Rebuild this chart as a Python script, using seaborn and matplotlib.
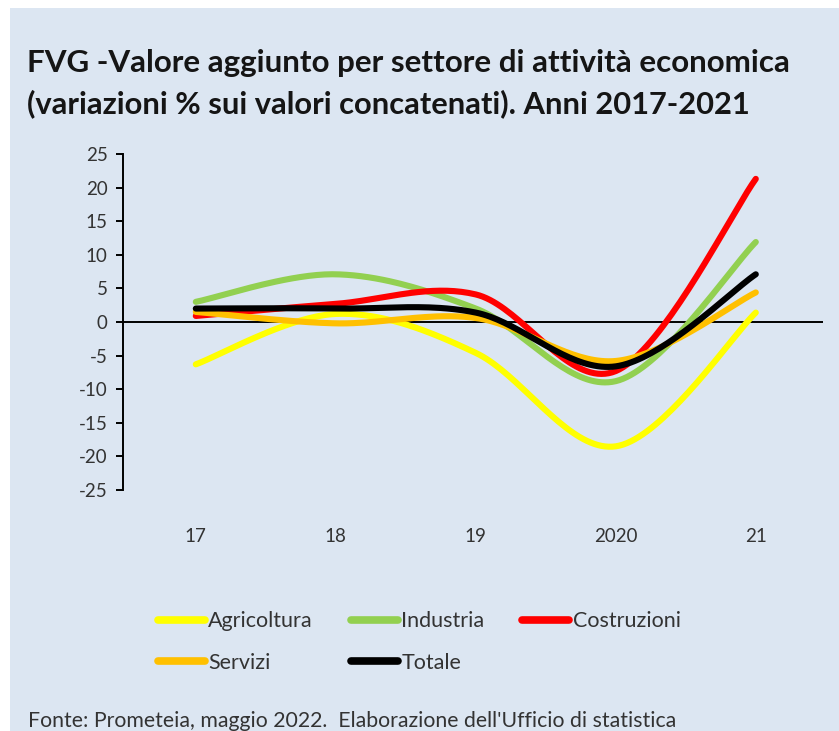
import numpy as np
import pandas as pd
import seaborn as sns
import matplotlib
matplotlib.use("Agg")
import matplotlib.pyplot as plt
from matplotlib.patches import Rectangle

years = ["17", "18", "19", "2020", "21"]
agricoltura = [-6.3, 1.2, -4.6, -18.5, 1.4]
industria = [3.0, 7.1, 2.0, -8.8, 11.9]
costruzioni = [0.9, 2.7, 4.1, -7.3, 21.3]
servizi = [1.5, -0.2, 0.6, -5.8, 4.4]
totale = [2.0, 2.0, 1.4, -6.6, 7.1]
series_names = ["Agricoltura", "Industria", "Costruzioni", "Servizi", "Totale"]
series_values = [agricoltura, industria, costruzioni, servizi, totale]
colors = ["#FFFF00", "#92D050", "#FF0000", "#FFC000", "#000000"]
yticks = [-25, -20, -15, -10, -5, 0, 5, 10, 15, 20, 25]

title1 = "FVG -Valore aggiunto per settore di attività economica"
title2 = "(variazioni % sui valori concatenati). Anni 2017-2021"
source = "Fonte: Prometeia, maggio 2022.  Elaborazione dell'Ufficio di statistica"

FONT = ["Lato", "DejaVu Sans"]


def smooth(xv, yv, n=40):
    """Excel-style smoothed line (cubic Bezier through each data point)."""
    P = np.column_stack([xv, yv]).astype(float)
    m = len(P)
    out = [P[0]]
    t = np.linspace(0, 1, n)[1:]
    for i in range(m - 1):
        p0, p3 = P[i], P[i + 1]
        prev = P[i - 1] if i > 0 else P[i]
        nxt = P[i + 2] if i + 2 < m else P[i + 1]
        c1 = p0 + (p3 - prev) / 6.0
        c2 = p3 - (nxt - p0) / 6.0
        seg = (((1 - t) ** 3)[:, None] * p0 + (3 * (1 - t) ** 2 * t)[:, None] * c1
               + (3 * (1 - t) * t ** 2)[:, None] * c2 + (t ** 3)[:, None] * p3)
        out.extend(seg)
    out = np.array(out)
    return out[:, 0], out[:, 1]


sns.set_theme(style="white")
plt.rcParams["font.family"] = FONT

W, H = 839, 731
fig = plt.figure(figsize=(W / 100, H / 100), dpi=100, facecolor="white")
fig.patches.append(Rectangle((10 / W, 0), 1, 1 - 8 / H, transform=fig.transFigure,
                             facecolor="#DCE6F2", edgecolor="none", zorder=-10))

ax = fig.add_axes([123 / W, (H - 490) / H, 700 / W, 336 / H])
ax.set_facecolor("none")

xpos = np.arange(len(years))
ax.axhline(0, color="black", lw=1.4, zorder=1)
for name, vals, col in zip(series_names, series_values, colors):
    sx, sy = smooth(xpos, vals)
    sns.lineplot(x=sx, y=sy, ax=ax, color=col, lw=4.4, label=name, sort=False,
                 estimator=None, solid_capstyle="round", zorder=3)

ax.set_xlim(-0.52, 4.48)
ax.set_ylim(-25, 25)
ax.set_yticks(yticks)
ax.set_yticklabels([str(v) for v in yticks])
ax.set_xticks(xpos)
ax.set_xticklabels(years)
for s in ["top", "right", "bottom"]:
    ax.spines[s].set_visible(False)
ax.spines["left"].set_color("black")
ax.spines["left"].set_linewidth(1.4)
ax.tick_params(axis="y", length=5, width=1.4, color="black", direction="out",
               labelsize=13.5, labelcolor="#333333", pad=6, left=True)
ax.tick_params(axis="x", length=0, labelsize=13.5, labelcolor="#333333", pad=27)
ax.set_xlabel("")
ax.set_ylabel("")

handles, labels = ax.get_legend_handles_labels()
ax.get_legend().remove()
order = [0, 3, 1, 4, 2]
leg = fig.legend([handles[i] for i in order], [labels[i] for i in order],
                 loc="center left", bbox_to_anchor=(147 / W, 1 - 642 / H), ncol=3,
                 frameon=False, fontsize=15.5, handlelength=2.2, handletextpad=0.15,
                 columnspacing=1.75, labelspacing=1.0, borderpad=0,
                 labelcolor="#333333")
for h in leg.legend_handles:
    h.set_linewidth(5.5)

t1 = fig.text(27 / W, 1 - 72 / H, title1, fontsize=21, fontweight="bold",
              color="#151515", ha="left", va="baseline")
t2 = fig.text(27 / W, 1 - 113 / H, title2, fontsize=21, fontweight="bold",
              color="#151515", ha="left", va="baseline")
t3 = fig.text(28 / W, 1 - 727 / H, source, fontsize=14, color="#333333",
              ha="left", va="baseline")

# fit text widths to the reference widths
fig.canvas.draw()
r = fig.canvas.get_renderer()
for txt, target in [(t1, 764), (t2, 722), (t3, 648)]:
    w = txt.get_window_extent(r).width
    txt.set_fontsize(txt.get_fontsize() * target / w)

fig.savefig("out.png", dpi=100, facecolor="white")
